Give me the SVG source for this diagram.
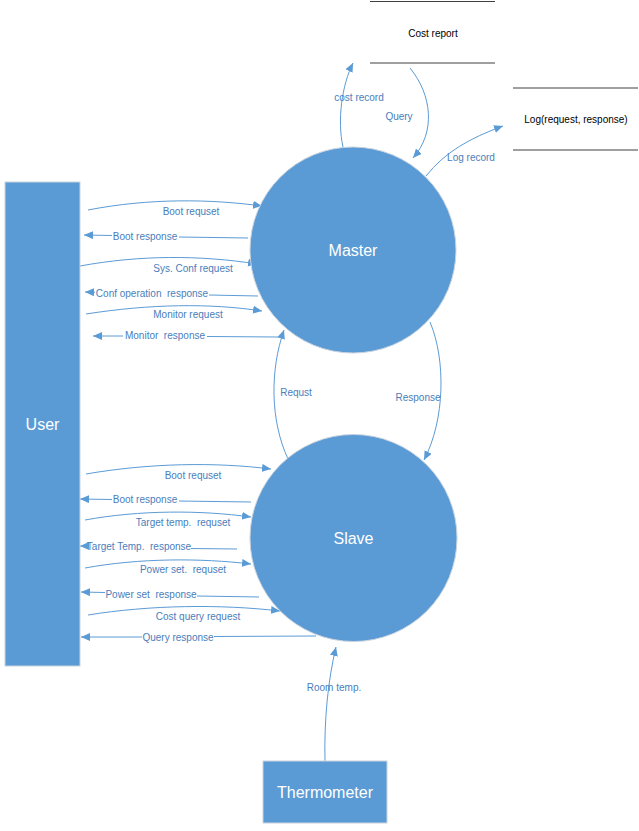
<svg xmlns="http://www.w3.org/2000/svg" width="639" height="831" viewBox="0 0 639 831">
<style>
.node{fill:#5B9BD5;stroke:#c9d3de;stroke-width:1}
.nl{font-family:"Liberation Sans",Arial,sans-serif;font-size:16px;fill:#ffffff;text-anchor:middle;dominant-baseline:central}
.st{stroke:#404040;stroke-width:1.2}
.sl{font-family:"Liberation Sans",Arial,sans-serif;font-size:10px;fill:#000000;text-anchor:middle;dominant-baseline:central}
.c{fill:none;stroke:#5B9BD5;stroke-width:1}
.a{marker-end:url(#ah)}
.lb{font-family:"Liberation Sans",Arial,sans-serif;font-size:10px;fill:#4A7EBB;text-anchor:middle;dominant-baseline:central;white-space:pre}
</style>
<defs>
<marker id="ah" markerWidth="10" markerHeight="8" refX="9" refY="4" orient="auto" markerUnits="userSpaceOnUse">
<path d="M0,0 L9,4 L0,8 z" fill="#5B9BD5"/>
</marker>
</defs>
<rect width="639" height="831" fill="#ffffff"/>

<g id="connectors">
<!-- top -->
<path class="c a" d="M343,147 C337,120 342,85 353,63"/>
<text class="lb" x="359" y="97">cost record</text>
<path class="c a" d="M410,68 C432,95 436,132 413,158"/>
<text class="lb" x="399" y="116">Query</text>
<path class="c a" d="M426,176 C445,152 470,138 503,126"/>
<text class="lb" x="471" y="157">Log record</text>

<!-- master left -->
<path class="c a" d="M88,210 C150,198 210,199 262,206"/>
<text class="lb" x="191" y="211">Boot requset</text>
<path class="c" d="M248,238 L179,237"/>
<path class="c a" d="M112,235.5 L84,235"/>
<text class="lb" x="145" y="236">Boot response</text>
<path class="c a" d="M80,266 C140,255 200,255 257,264"/>
<text class="lb" x="193" y="268">Sys. Conf request</text>
<path class="c" d="M258,296 L209,295"/>
<path class="c a" d="M95,292.3 L85,292"/>
<text class="lb" x="152" y="293" xml:space="preserve">Conf operation  response</text>
<path class="c a" d="M86,314 C150,304 210,303 262,311"/>
<text class="lb" x="188" y="314">Monitor request</text>
<path class="c" d="M278,337 L207,336.5"/>
<path class="c a" d="M123,336 L93,336"/>
<text class="lb" x="165" y="335" xml:space="preserve">Monitor  response</text>

<!-- between -->
<path class="c a" d="M288,459 C270,420 270,370 284,330"/>
<text class="lb" x="296" y="392">Requst</text>
<path class="c a" d="M430,322 C446,360 445,420 424,460"/>
<text class="lb" x="418" y="397">Response</text>

<!-- slave left -->
<path class="c a" d="M86,474 C150,463 215,462 271,469"/>
<text class="lb" x="193" y="475">Boot requset</text>
<path class="c" d="M251,502 L179,501"/>
<path class="c a" d="M112,499.5 L80,499"/>
<text class="lb" x="145" y="499">Boot response</text>
<path class="c a" d="M85,520 C140,510 200,510 251,517"/>
<text class="lb" x="183" y="522" xml:space="preserve">Target temp.  requset</text>
<path class="c" d="M237,549 L191,548.5"/>
<path class="c a" d="M87,546 L80,546"/>
<text class="lb" x="139" y="546" xml:space="preserve">Target Temp.  response</text>
<path class="c a" d="M85,568 C140,558 200,558 251,564"/>
<text class="lb" x="183" y="569" xml:space="preserve">Power set.  requset</text>
<path class="c" d="M259,597 L197,596"/>
<path class="c a" d="M105,592.5 L81,592"/>
<text class="lb" x="151" y="594" xml:space="preserve">Power set  response</text>
<path class="c a" d="M88,615 C150,605 220,604 280,611"/>
<text class="lb" x="198" y="616">Cost query request</text>
<path class="c" d="M316,636 L214,636.5"/>
<path class="c a" d="M142,637 L81,637"/>
<text class="lb" x="178" y="637">Query response</text>

<!-- thermometer -->
<path class="c a" d="M325,761 C324,720 328,680 336,647"/>
<text class="lb" x="334" y="687">Room temp.</text>
</g>

<g id="cost-report">
<line class="st" x1="370" y1="1.5" x2="495" y2="1.5"/>
<line class="st" x1="370" y1="63" x2="495" y2="63"/>
<text class="sl" x="433" y="33">Cost report</text>
</g>

<g id="log">
<line class="st" x1="513" y1="88" x2="638" y2="88"/>
<line class="st" x1="513" y1="150" x2="638" y2="150"/>
<text class="sl" x="576" y="119">Log(request, response)</text>
</g>

<g id="user">
<rect class="node" x="5" y="182" width="75" height="484"/>
<text class="nl" x="42.5" y="424">User</text>
</g>

<g id="master">
<circle class="node" cx="353" cy="250" r="103"/>
<text class="nl" x="353" y="250">Master</text>
</g>

<g id="slave">
<circle class="node" cx="353.5" cy="538" r="103.5"/>
<text class="nl" x="353.5" y="538">Slave</text>
</g>

<g id="thermometer">
<rect class="node" x="263" y="761" width="124" height="62"/>
<text class="nl" x="325" y="792">Thermometer</text>
</g>
</svg>
